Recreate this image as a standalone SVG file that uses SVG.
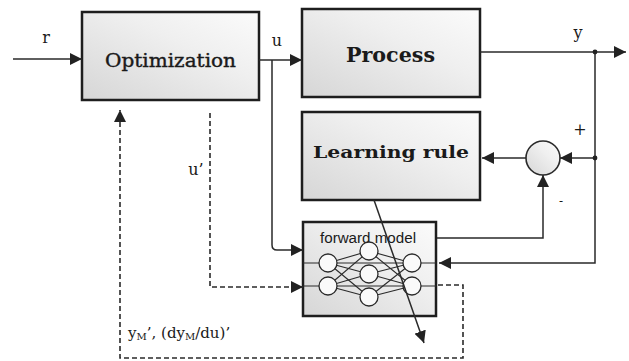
<svg xmlns="http://www.w3.org/2000/svg" width="629" height="361" viewBox="0 0 629 361">
  <defs>
    <linearGradient id="boxFill" x1="0" y1="1" x2="1" y2="0">
      <stop offset="0" stop-color="#d6d6d6"/>
      <stop offset="0.6" stop-color="#efefef"/>
      <stop offset="1" stop-color="#fbfbfb"/>
    </linearGradient>
    <marker id="arrow" viewBox="0 0 10 10" refX="10" refY="5" markerWidth="12" markerHeight="12" markerUnits="userSpaceOnUse" orient="auto">
      <path d="M0,0 L10,5 L0,10 z" fill="#222"/>
    </marker>
    <style>
      .box { fill: url(#boxFill); stroke: #1e1e1e; stroke-width: 2.5; }
      .line { fill: none; stroke: #2a2a2a; stroke-width: 1.5; }
      .dash { fill: none; stroke: #2a2a2a; stroke-width: 1.6; stroke-dasharray: 5 3; }
      .serif { font-family: "DejaVu Serif", "Liberation Serif", serif; fill: #1a1a1a; }
      .heavy { stroke: #1a1a1a; stroke-width: 0.4; }
      .sans { font-family: "Liberation Sans", Arial, sans-serif; fill: #1a1a1a; }
      .neuron { fill: #fafafa; stroke: #2a2a2a; stroke-width: 1.3; }
      .syn { stroke: #2a2a2a; stroke-width: 1.1; }
    </style>
  </defs>

  <rect width="629" height="361" fill="#ffffff"/>

  <g id="optimization">
    <rect class="box" x="82" y="12" width="177" height="88"/>
    <text class="serif heavy" x="170.5" y="67" font-size="19" text-anchor="middle" textLength="131" lengthAdjust="spacingAndGlyphs">Optimization</text>
  </g>

  <g id="process">
    <rect class="box" x="302" y="9" width="178" height="88"/>
    <text class="serif" x="390.5" y="62" font-size="20" font-weight="bold" text-anchor="middle" textLength="89" lengthAdjust="spacingAndGlyphs">Process</text>
  </g>

  <g id="learning-rule">
    <rect class="box" x="302" y="112" width="178" height="88"/>
    <text class="serif" x="391" y="158" font-size="16" font-weight="bold" text-anchor="middle" textLength="156" lengthAdjust="spacingAndGlyphs">Learning rule</text>
  </g>

  <g id="sum">
    <circle cx="543" cy="158" r="17" fill="url(#boxFill)" stroke="#2a2a2a" stroke-width="1.6"/>
  </g>

  <g id="forward-model">
    <rect class="box" x="303" y="222" width="133" height="94"/>
    <text class="sans" x="368" y="243" font-size="14" text-anchor="middle" textLength="96" lengthAdjust="spacingAndGlyphs">forward model</text>
    <!-- input / output rails -->
    <line class="syn" x1="303" y1="263" x2="436" y2="263"/>
    <line class="syn" x1="303" y1="286" x2="436" y2="286"/>
    <!-- synapses: input layer to hidden layer -->
    <g class="syn">
      <line x1="328" y1="263" x2="369" y2="251"/>
      <line x1="328" y1="263" x2="369" y2="274"/>
      <line x1="328" y1="263" x2="369" y2="297"/>
      <line x1="328" y1="286" x2="369" y2="251"/>
      <line x1="328" y1="286" x2="369" y2="274"/>
      <line x1="328" y1="286" x2="369" y2="297"/>
      <!-- hidden layer to output layer -->
      <line x1="369" y1="251" x2="412" y2="263"/>
      <line x1="369" y1="251" x2="412" y2="286"/>
      <line x1="369" y1="274" x2="412" y2="263"/>
      <line x1="369" y1="274" x2="412" y2="286"/>
      <line x1="369" y1="297" x2="412" y2="263"/>
      <line x1="369" y1="297" x2="412" y2="286"/>
    </g>
    <circle class="neuron" cx="328" cy="263" r="9"/>
    <circle class="neuron" cx="328" cy="286" r="9"/>
    <circle class="neuron" cx="369" cy="251" r="9"/>
    <circle class="neuron" cx="369" cy="274" r="9"/>
    <circle class="neuron" cx="369" cy="297" r="9"/>
    <circle class="neuron" cx="412" cy="263" r="9"/>
    <circle class="neuron" cx="412" cy="286" r="9"/>
  </g>

  <g id="connectors">
    <!-- reference input r -->
    <path class="line" d="M13,59 H82" marker-end="url(#arrow)"/>
    <!-- control u to process -->
    <path class="line" d="M259,60 H302" marker-end="url(#arrow)"/>
    <!-- u branch into forward model -->
    <path class="line" d="M272,60 V245 Q272,250 277,250 H303" marker-end="url(#arrow)"/>
    <!-- process output y -->
    <path class="line" d="M480,52 H626" marker-end="url(#arrow)"/>
    <!-- y fed back to forward model -->
    <path class="line" d="M595,52 V263 H439" marker-end="url(#arrow)"/>
    <!-- y to summing junction (+) -->
    <path class="line" d="M595,158 H560" marker-end="url(#arrow)"/>
    <!-- error to learning rule -->
    <path class="line" d="M526,158 H482" marker-end="url(#arrow)"/>
    <!-- model output to summing junction (-) -->
    <path class="line" d="M437,238 H543 V175" marker-end="url(#arrow)"/>
    <!-- weight update across the network -->
    <path class="line" d="M374,200 L424,343" marker-end="url(#arrow)"/>
    <circle cx="595" cy="52" r="2.4" fill="#222"/>
    <circle cx="595" cy="158" r="2.4" fill="#222"/>
    <!-- u' candidate from optimizer -->
    <path class="dash" d="M210,113 V287 H303" marker-end="url(#arrow)"/>
    <!-- model predictions back to optimizer -->
    <path class="dash" d="M438,285 H463 V358 H120 V110" marker-end="url(#arrow)"/>
  </g>

  <g id="labels">
    <text class="serif" x="46" y="43" font-size="16" text-anchor="middle">r</text>
    <text class="serif" x="277" y="46" font-size="16" text-anchor="middle">u</text>
    <text class="serif" x="578" y="38" font-size="16" text-anchor="middle">y</text>
    <text class="serif" x="196" y="175" font-size="16" text-anchor="middle">u’</text>
    <text class="serif" x="580" y="135" font-size="16" text-anchor="middle">+</text>
    <text class="serif" x="561" y="205" font-size="12" text-anchor="middle">-</text>
    <text class="serif" x="128" y="338" font-size="15">y<tspan font-size="10" dy="2">M</tspan><tspan dy="-2">’, (dy</tspan><tspan font-size="10" dy="2">M</tspan><tspan dy="-2">/du)’</tspan></text>
  </g>
</svg>
